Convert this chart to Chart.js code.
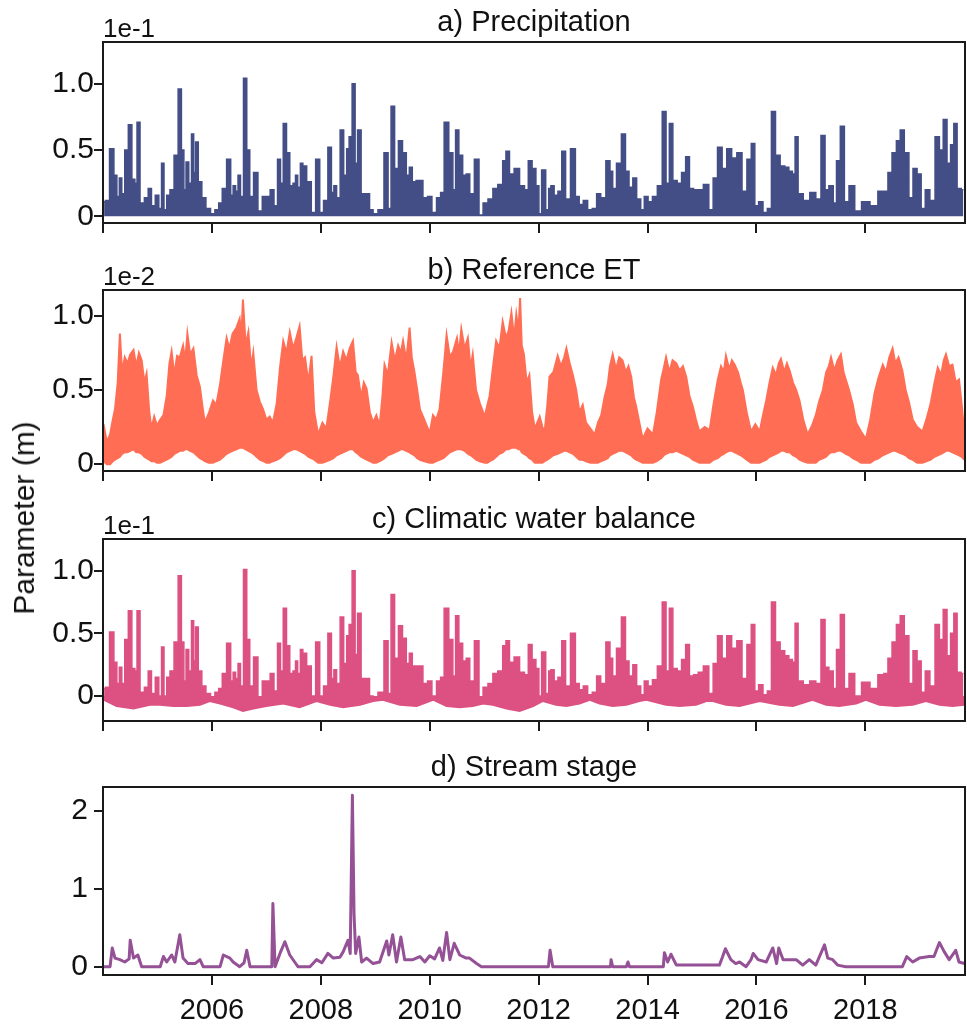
<!DOCTYPE html>
<html>
<head>
<meta charset="utf-8">
<title>Climate and stream series</title>
<script src="https://cdn.jsdelivr.net/npm/chart.js@4.4.1/dist/chart.umd.min.js"></script>
<style>
  body { margin: 0; background: #fff; }
  #wrap { position: relative; width: 967px; height: 1025px; font-family: "Liberation Sans", Arial, sans-serif; }
  .panel { position: absolute; left: 0; width: 967px; }
  #ylab {
    position: absolute; left: 23.5px; top: 518px;
    transform: translate(-50%, -50%) rotate(-90deg);
    white-space: nowrap; font-size: 30px; color: #111;
  }
</style>
</head>
<body>
<div id="wrap">
  <div class="panel" style="top:0px"><canvas id="chartA" width="967" height="241"></canvas></div>
  <div class="panel" style="top:245px"><canvas id="chartB" width="967" height="244"></canvas></div>
  <div class="panel" style="top:494px"><canvas id="chartC" width="967" height="245"></canvas></div>
  <div class="panel" style="top:742px"><canvas id="chartD" width="967" height="283"></canvas></div>
  <div id="ylab">Parameter (m)</div>
</div>
<script>
// sample times (decimal years) shared by precipitation and climatic water balance
var sampleYears = [
  2004.02, 2004.07, 2004.17, 2004.23, 2004.28, 2004.32, 2004.37, 2004.43, 2004.50, 2004.56,
  2004.61, 2004.64, 2004.72, 2004.80, 2004.86, 2004.92, 2005.00, 2005.05, 2005.10, 2005.14,
  2005.20, 2005.26, 2005.35, 2005.41, 2005.47, 2005.50, 2005.55, 2005.60, 2005.65, 2005.68,
  2005.72, 2005.78, 2005.85, 2005.93, 2006.02, 2006.09, 2006.16, 2006.22, 2006.32, 2006.37,
  2006.41, 2006.46, 2006.50, 2006.55, 2006.61, 2006.67, 2006.72, 2006.81, 2006.88, 2006.97,
  2007.03, 2007.11, 2007.17, 2007.24, 2007.28, 2007.34, 2007.40, 2007.46, 2007.52, 2007.55,
  2007.60, 2007.65, 2007.69, 2007.79, 2007.86, 2007.95, 2008.01, 2008.09, 2008.17, 2008.22,
  2008.26, 2008.32, 2008.39, 2008.45, 2008.50, 2008.54, 2008.61, 2008.65, 2008.70, 2008.78,
  2008.86, 2008.93, 2008.99, 2009.11, 2009.21, 2009.26, 2009.32, 2009.39, 2009.46, 2009.54,
  2009.60, 2009.65, 2009.71, 2009.79, 2009.83, 2009.92, 2010.00, 2010.08, 2010.17, 2010.23,
  2010.30, 2010.40, 2010.45, 2010.50, 2010.57, 2010.64, 2010.70, 2010.77, 2010.87, 2010.94,
  2011.02, 2011.12, 2011.20, 2011.30, 2011.38, 2011.42, 2011.51, 2011.59, 2011.71, 2011.77,
  2011.85, 2011.91, 2011.99, 2012.02, 2012.09, 2012.17, 2012.20, 2012.25, 2012.32, 2012.39,
  2012.46, 2012.53, 2012.64, 2012.71, 2012.78, 2012.86, 2012.94, 2013.03, 2013.10, 2013.18,
  2013.29, 2013.33, 2013.39, 2013.47, 2013.57, 2013.62, 2013.70, 2013.76, 2013.84, 2013.91,
  2013.97, 2014.05, 2014.13, 2014.23, 2014.31, 2014.37, 2014.43, 2014.50, 2014.59, 2014.66,
  2014.74, 2014.80, 2014.89, 2014.97, 2015.08, 2015.17, 2015.24, 2015.33, 2015.41, 2015.50,
  2015.59, 2015.69, 2015.78, 2015.87, 2015.94, 2016.00, 2016.08, 2016.16, 2016.24, 2016.31,
  2016.39, 2016.48, 2016.56, 2016.63, 2016.69, 2016.73, 2016.80, 2016.92, 2017.04, 2017.14,
  2017.23, 2017.29, 2017.37, 2017.45, 2017.49, 2017.59, 2017.64, 2017.76, 2017.85, 2018.01,
  2018.16, 2018.30, 2018.38, 2018.45, 2018.53, 2018.61, 2018.67, 2018.76, 2018.84, 2018.91,
  2018.99, 2019.06, 2019.14, 2019.23, 2019.33, 2019.39, 2019.47, 2019.53, 2019.60, 2019.65,
  2019.72, 2019.80
];

// a) precipitation, units of 1e-1 m
var precip = [
  0.11, 0.12, 0.51, 0.31, 0.15, 0.29, 0.17, 0.50, 0.69, 0.28,
  0.25, 0.71, 0.10, 0.14, 0.21, 0.08, 0.16, 0.06, 0.40, 0.05,
  0.16, 0.20, 0.46, 0.96, 0.50, 0.20, 0.41, 0.25, 0.62, 0.33,
  0.56, 0.26, 0.14, 0.06, 0.02, 0.05, 0.10, 0.21, 0.43, 0.16,
  0.23, 0.19, 0.31, 0.15, 1.04, 0.50, 0.15, 0.33, 0.04, 0.15,
  0.15, 0.20, 0.08, 0.43, 0.25, 0.70, 0.48, 0.23, 0.25, 0.31,
  0.22, 0.40, 0.38, 0.26, 0.03, 0.43, 0.03, 0.12, 0.52, 0.18,
  0.23, 0.14, 0.65, 0.31, 0.51, 0.60, 1.00, 0.40, 0.65, 0.17,
  0.17, 0.05, 0.02, 0.05, 0.48, 0.06, 0.83, 0.36, 0.57, 0.48,
  0.31, 0.37, 0.26, 0.27, 0.27, 0.14, 0.15, 0.03, 0.14, 0.18,
  0.71, 0.48, 0.20, 0.65, 0.46, 0.31, 0.32, 0.17, 0.43, 0.01,
  0.10, 0.13, 0.21, 0.24, 0.42, 0.49, 0.32, 0.36, 0.23, 0.20,
  0.42, 0.36, 0.23, 0.02, 0.35, 0.05, 0.21, 0.23, 0.16, 0.19,
  0.49, 0.13, 0.51, 0.15, 0.09, 0.12, 0.05, 0.06, 0.17, 0.14,
  0.42, 0.34, 0.21, 0.40, 0.62, 0.34, 0.22, 0.29, 0.13, 0.05,
  0.15, 0.11, 0.15, 0.23, 0.79, 0.25, 0.70, 0.27, 0.25, 0.33,
  0.45, 0.21, 0.20, 0.20, 0.24, 0.05, 0.29, 0.52, 0.36, 0.51,
  0.44, 0.48, 0.19, 0.43, 0.55, 0.08, 0.11, 0.03, 0.06, 0.79,
  0.46, 0.38, 0.37, 0.34, 0.32, 0.60, 0.17, 0.12, 0.18, 0.13,
  0.61, 0.20, 0.23, 0.10, 0.42, 0.68, 0.11, 0.23, 0.04, 0.11,
  0.08, 0.19, 0.19, 0.33, 0.48, 0.57, 0.65, 0.48, 0.14, 0.36,
  0.32, 0.06, 0.20, 0.12, 0.60, 0.50, 0.73, 0.40, 0.54, 0.70,
  0.21, 0.20
];

// c) climatic water balance, upper edge at the same times, units of 1e-1 m
var cwbHigh = [
  0.06, 0.07, 0.51, 0.27, 0.10, 0.23, 0.10, 0.45, 0.68, 0.22,
  0.20, 0.68, 0.03, 0.07, 0.20, 0.02, 0.15, 0.00, 0.39, 0.00,
  0.15, 0.20, 0.43, 0.96, 0.43, 0.12, 0.37, 0.20, 0.60, 0.28,
  0.55, 0.20, 0.08, 0.02, -0.02, 0.03, 0.06, 0.18, 0.42, 0.12,
  0.19, 0.14, 0.26, 0.08, 1.01, 0.45, 0.08, 0.31, -0.02, 0.12,
  0.12, 0.18, 0.04, 0.42, 0.20, 0.70, 0.40, 0.18, 0.20, 0.28,
  0.18, 0.37, 0.34, 0.24, 0.00, 0.43, 0.00, 0.08, 0.50, 0.14,
  0.21, 0.10, 0.63, 0.26, 0.48, 0.57, 1.00, 0.33, 0.66, 0.14,
  0.14, 0.00, -0.01, 0.03, 0.44, 0.02, 0.81, 0.30, 0.56, 0.46,
  0.26, 0.34, 0.24, 0.24, 0.24, 0.10, 0.12, 0.00, 0.12, 0.15,
  0.70, 0.45, 0.16, 0.64, 0.42, 0.28, 0.30, 0.12, 0.44, -0.01,
  0.07, 0.10, 0.18, 0.20, 0.40, 0.44, 0.27, 0.31, 0.19, 0.17,
  0.41, 0.29, 0.22, 0.00, 0.35, 0.02, 0.20, 0.21, 0.12, 0.15,
  0.44, 0.08, 0.50, 0.10, 0.05, 0.08, 0.01, 0.03, 0.16, 0.10,
  0.43, 0.30, 0.16, 0.38, 0.63, 0.28, 0.16, 0.25, 0.08, 0.01,
  0.12, 0.08, 0.13, 0.24, 0.75, 0.20, 0.70, 0.22, 0.20, 0.29,
  0.41, 0.16, 0.17, 0.19, 0.24, 0.02, 0.26, 0.48, 0.30, 0.48,
  0.38, 0.44, 0.14, 0.41, 0.57, 0.04, 0.09, 0.01, 0.04, 0.75,
  0.43, 0.36, 0.32, 0.29, 0.27, 0.58, 0.12, 0.09, 0.12, 0.10,
  0.61, 0.23, 0.20, 0.06, 0.37, 0.65, 0.06, 0.18, 0.00, 0.11,
  0.06, 0.17, 0.18, 0.30, 0.43, 0.57, 0.64, 0.48, 0.10, 0.36,
  0.28, 0.03, 0.20, 0.08, 0.57, 0.45, 0.69, 0.32, 0.50, 0.66,
  0.19, 0.18
];

// c) lower edge of the water balance band
var cwbLowYears = [
  2004.01, 2004.25, 2004.56, 2004.86, 2005.05, 2005.29, 2005.54, 2005.78, 2005.96, 2006.15,
  2006.39, 2006.57, 2006.76, 2007.00, 2007.31, 2007.61, 2007.92, 2008.17, 2008.41, 2008.72,
  2008.96, 2009.14, 2009.45, 2009.76, 2010.00, 2010.06, 2010.31, 2010.55, 2010.79, 2010.98,
  2011.16, 2011.41, 2011.65, 2011.90, 2012.08, 2012.32, 2012.51, 2012.75, 2012.94, 2013.12,
  2013.36, 2013.61, 2013.85, 2013.98, 2014.34, 2014.59, 2014.89, 2015.08, 2015.20, 2015.44,
  2015.69, 2016.06, 2016.42, 2016.67, 2017.03, 2017.28, 2017.52, 2017.83, 2018.01, 2018.26,
  2018.56, 2018.87, 2019.11, 2019.36, 2019.60, 2019.82
];
var cwbLow = [
  -0.03, -0.08, -0.10, -0.07, -0.07, -0.08, -0.08, -0.07, -0.04, -0.06,
  -0.09, -0.12, -0.10, -0.08, -0.06, -0.09, -0.04, -0.07, -0.09, -0.07,
  -0.04, -0.03, -0.07, -0.08, -0.04, -0.03, -0.08, -0.09, -0.08, -0.06,
  -0.07, -0.10, -0.12, -0.08, -0.04, -0.07, -0.08, -0.06, -0.03, -0.06,
  -0.08, -0.07, -0.04, -0.03, -0.07, -0.08, -0.07, -0.04, -0.04, -0.07,
  -0.08, -0.04, -0.07, -0.08, -0.03, -0.07, -0.08, -0.06, -0.03, -0.07,
  -0.08, -0.07, -0.04, -0.07, -0.08, -0.07
];

// b) reference ET, upper and lower edge of the daily band, units of 1e-2 m
var etYears = [
  2004.01, 2004.07, 2004.13, 2004.18, 2004.22, 2004.27, 2004.31, 2004.35, 2004.40, 2004.45,
  2004.50, 2004.56, 2004.61, 2004.66, 2004.71, 2004.76, 2004.80, 2004.85, 2004.89, 2004.94,
  2004.99, 2005.05, 2005.11, 2005.17, 2005.22, 2005.26, 2005.31, 2005.36, 2005.41, 2005.47,
  2005.51, 2005.55, 2005.60, 2005.66, 2005.72, 2005.78, 2005.83, 2005.87, 2005.94, 2006.02,
  2006.08, 2006.15, 2006.21, 2006.27, 2006.32, 2006.38, 2006.45, 2006.51, 2006.54, 2006.57,
  2006.62, 2006.67, 2006.72, 2006.76, 2006.82, 2006.88, 2006.94, 2007.00, 2007.06, 2007.12,
  2007.19, 2007.25, 2007.31, 2007.37, 2007.43, 2007.49, 2007.55, 2007.61, 2007.66, 2007.71,
  2007.77, 2007.83, 2007.88, 2007.95, 2008.03, 2008.10, 2008.17, 2008.23, 2008.29, 2008.35,
  2008.41, 2008.47, 2008.53, 2008.59, 2008.64, 2008.68, 2008.74, 2008.79, 2008.84, 2008.90,
  2008.96, 2009.02, 2009.08, 2009.13, 2009.17, 2009.23, 2009.30, 2009.36, 2009.42, 2009.47,
  2009.51, 2009.57, 2009.63, 2009.67, 2009.72, 2009.77, 2009.82, 2009.90, 2010.00, 2010.06,
  2010.12, 2010.18, 2010.25, 2010.31, 2010.37, 2010.43, 2010.50, 2010.54, 2010.58, 2010.64,
  2010.70, 2010.75, 2010.79, 2010.85, 2010.92, 2011.01, 2011.06, 2011.10, 2011.16, 2011.22,
  2011.28, 2011.34, 2011.40, 2011.45, 2011.50, 2011.55, 2011.59, 2011.63, 2011.66, 2011.69,
  2011.73, 2011.78, 2011.83, 2011.88, 2011.93, 2012.02, 2012.07, 2012.11, 2012.16, 2012.20,
  2012.27, 2012.35, 2012.41, 2012.47, 2012.51, 2012.57, 2012.63, 2012.69, 2012.75, 2012.81,
  2012.87, 2012.95, 2013.03, 2013.09, 2013.15, 2013.21, 2013.27, 2013.31, 2013.36, 2013.42,
  2013.48, 2013.54, 2013.60, 2013.65, 2013.70, 2013.75, 2013.79, 2013.85, 2013.91, 2014.00,
  2014.10, 2014.17, 2014.25, 2014.30, 2014.34, 2014.40, 2014.46, 2014.53, 2014.59, 2014.65,
  2014.71, 2014.77, 2014.83, 2014.89, 2014.95, 2015.05, 2015.14, 2015.21, 2015.29, 2015.35,
  2015.40, 2015.44, 2015.50, 2015.55, 2015.60, 2015.66, 2015.71, 2015.75, 2015.82, 2015.90,
  2015.98, 2016.06, 2016.12, 2016.18, 2016.24, 2016.30, 2016.36, 2016.41, 2016.45, 2016.51,
  2016.56, 2016.61, 2016.67, 2016.73, 2016.79, 2016.86, 2016.94, 2017.02, 2017.09, 2017.15,
  2017.22, 2017.28, 2017.33, 2017.37, 2017.43, 2017.49, 2017.55, 2017.60, 2017.64, 2017.70,
  2017.77, 2017.83, 2017.92, 2018.01, 2018.09, 2018.17, 2018.24, 2018.32, 2018.38, 2018.44,
  2018.50, 2018.55, 2018.61, 2018.68, 2018.74, 2018.80, 2018.87, 2018.95, 2019.05, 2019.12,
  2019.20, 2019.27, 2019.33, 2019.39, 2019.44, 2019.48, 2019.54, 2019.60, 2019.66, 2019.72,
  2019.77, 2019.82
];
var etHigh = [
  0.27, 0.15, 0.20, 0.30, 0.37, 0.55, 0.88, 0.62, 0.72, 0.68,
  0.74, 0.77, 0.66, 0.75, 0.70, 0.55, 0.61, 0.35, 0.24, 0.32,
  0.26, 0.30, 0.33, 0.46, 0.68, 0.76, 0.60, 0.73, 0.72, 0.80,
  0.70, 0.88, 0.74, 0.78, 0.60, 0.52, 0.38, 0.28, 0.34, 0.43,
  0.40, 0.54, 0.70, 0.85, 0.78, 0.88, 0.92, 0.98, 0.85, 1.11,
  0.80, 0.89, 0.65, 0.75, 0.50, 0.42, 0.37, 0.30, 0.32, 0.28,
  0.41, 0.65, 0.83, 0.75, 0.89, 0.78, 0.85, 0.93, 0.70, 0.72,
  0.55, 0.73, 0.35, 0.20, 0.28, 0.24, 0.42, 0.59, 0.79, 0.65,
  0.76, 0.70, 0.78, 0.83, 0.62, 0.60, 0.45, 0.55, 0.51, 0.35,
  0.28, 0.33, 0.26, 0.45, 0.67, 0.60, 0.82, 0.70, 0.80, 0.75,
  0.83, 0.70, 0.92, 0.72, 0.62, 0.50, 0.37, 0.30, 0.21, 0.33,
  0.30, 0.37, 0.62, 0.87, 0.72, 0.76, 0.85, 0.75, 0.91, 0.78,
  0.85, 0.65, 0.74, 0.50, 0.41, 0.32, 0.40, 0.46, 0.65, 0.83,
  0.78, 0.96, 0.85, 0.90, 1.02, 0.85, 1.01, 0.90, 1.12, 0.80,
  0.74, 0.55, 0.60, 0.35, 0.24, 0.32, 0.25, 0.22, 0.40, 0.59,
  0.62, 0.73, 0.66, 0.72, 0.78, 0.68, 0.60, 0.50, 0.35, 0.40,
  0.28, 0.24, 0.20, 0.28, 0.33, 0.45, 0.54, 0.66, 0.74, 0.64,
  0.72, 0.70, 0.62, 0.66, 0.59, 0.45, 0.39, 0.28, 0.17, 0.24,
  0.20, 0.35, 0.57, 0.65, 0.72, 0.62, 0.70, 0.68, 0.63, 0.66,
  0.59, 0.46, 0.39, 0.30, 0.22, 0.25, 0.23, 0.40, 0.57, 0.66,
  0.62, 0.73, 0.64, 0.70, 0.67, 0.62, 0.55, 0.50, 0.35, 0.22,
  0.27, 0.22, 0.33, 0.43, 0.55, 0.65, 0.60, 0.68, 0.71, 0.62,
  0.68, 0.63, 0.55, 0.50, 0.43, 0.30, 0.20, 0.26, 0.33, 0.42,
  0.50, 0.62, 0.66, 0.72, 0.63, 0.70, 0.74, 0.62, 0.57, 0.50,
  0.40, 0.28, 0.22, 0.17, 0.30, 0.48, 0.58, 0.67, 0.62, 0.72,
  0.78, 0.68, 0.72, 0.63, 0.50, 0.42, 0.30, 0.25, 0.22, 0.30,
  0.41, 0.55, 0.65, 0.60, 0.70, 0.74, 0.66, 0.67, 0.55, 0.57,
  0.40, 0.20
];
var etLow = [
  0.02, 0.00, 0.00, 0.02, 0.03, 0.04, 0.05, 0.07, 0.08, 0.08,
  0.09, 0.10, 0.08, 0.08, 0.07, 0.05, 0.04, 0.03, 0.02, 0.02,
  0.01, 0.01, 0.02, 0.03, 0.04, 0.05, 0.07, 0.08, 0.09, 0.09,
  0.10, 0.10, 0.09, 0.08, 0.06, 0.04, 0.03, 0.02, 0.01, 0.01,
  0.02, 0.03, 0.05, 0.07, 0.08, 0.09, 0.10, 0.11, 0.11, 0.11,
  0.10, 0.09, 0.08, 0.07, 0.05, 0.03, 0.02, 0.01, 0.01, 0.02,
  0.03, 0.04, 0.06, 0.08, 0.09, 0.10, 0.10, 0.09, 0.08, 0.07,
  0.05, 0.04, 0.03, 0.01, 0.01, 0.02, 0.03, 0.04, 0.06, 0.07,
  0.08, 0.09, 0.10, 0.10, 0.08, 0.07, 0.05, 0.04, 0.03, 0.02,
  0.01, 0.01, 0.02, 0.03, 0.04, 0.06, 0.07, 0.08, 0.09, 0.10,
  0.10, 0.09, 0.08, 0.07, 0.06, 0.04, 0.03, 0.02, 0.01, 0.01,
  0.02, 0.03, 0.04, 0.06, 0.08, 0.09, 0.10, 0.10, 0.10, 0.09,
  0.07, 0.06, 0.05, 0.03, 0.02, 0.01, 0.01, 0.02, 0.03, 0.05,
  0.07, 0.08, 0.10, 0.10, 0.11, 0.11, 0.11, 0.10, 0.10, 0.08,
  0.07, 0.06, 0.04, 0.03, 0.01, 0.01, 0.01, 0.02, 0.03, 0.04,
  0.06, 0.07, 0.08, 0.09, 0.09, 0.08, 0.07, 0.05, 0.03, 0.03,
  0.02, 0.01, 0.01, 0.01, 0.02, 0.03, 0.04, 0.06, 0.07, 0.08,
  0.09, 0.09, 0.08, 0.07, 0.06, 0.04, 0.03, 0.02, 0.01, 0.01,
  0.01, 0.02, 0.04, 0.06, 0.07, 0.08, 0.08, 0.09, 0.08, 0.07,
  0.06, 0.05, 0.03, 0.02, 0.01, 0.01, 0.01, 0.03, 0.04, 0.06,
  0.07, 0.08, 0.09, 0.09, 0.08, 0.07, 0.06, 0.05, 0.03, 0.01,
  0.01, 0.01, 0.02, 0.03, 0.05, 0.06, 0.07, 0.08, 0.09, 0.09,
  0.08, 0.08, 0.06, 0.05, 0.03, 0.02, 0.01, 0.01, 0.01, 0.03,
  0.04, 0.05, 0.07, 0.08, 0.08, 0.09, 0.09, 0.08, 0.07, 0.06,
  0.04, 0.03, 0.01, 0.01, 0.01, 0.03, 0.04, 0.06, 0.07, 0.08,
  0.09, 0.09, 0.08, 0.07, 0.06, 0.04, 0.03, 0.01, 0.01, 0.02,
  0.03, 0.05, 0.06, 0.07, 0.08, 0.09, 0.09, 0.08, 0.07, 0.06,
  0.05, 0.03
];

// d) stream stage, m
var stageYears = [
  2004.00, 2004.13, 2004.17, 2004.22, 2004.31, 2004.40, 2004.48, 2004.50, 2004.56, 2004.64,
  2004.71, 2005.05, 2005.11, 2005.17, 2005.26, 2005.32, 2005.41, 2005.47, 2005.56, 2005.69,
  2005.78, 2005.84, 2006.15, 2006.21, 2006.33, 2006.39, 2006.51, 2006.59, 2006.64, 2006.70,
  2007.10, 2007.12, 2007.16, 2007.25, 2007.34, 2007.43, 2007.52, 2007.58, 2007.80, 2007.92,
  2008.02, 2008.13, 2008.23, 2008.35, 2008.41, 2008.50, 2008.54, 2008.58, 2008.61, 2008.64,
  2008.70, 2008.75, 2008.84, 2008.96, 2009.08, 2009.21, 2009.25, 2009.32, 2009.39, 2009.47,
  2009.54, 2009.69, 2009.82, 2009.91, 2010.00, 2010.09, 2010.18, 2010.24, 2010.31, 2010.37,
  2010.45, 2010.55, 2010.67, 2010.73, 2010.86, 2010.95, 2012.18, 2012.21, 2012.26, 2013.32,
  2013.33, 2013.36, 2013.61, 2013.64, 2013.67, 2014.29, 2014.31, 2014.37, 2014.43, 2014.53,
  2015.32, 2015.38, 2015.43, 2015.53, 2015.62, 2015.69, 2015.81, 2015.90, 2015.94, 2016.03,
  2016.18, 2016.30, 2016.37, 2016.41, 2016.49, 2016.73, 2016.85, 2016.97, 2017.09, 2017.25,
  2017.31, 2017.40, 2017.49, 2017.64, 2018.68, 2018.76, 2018.87, 2018.99, 2019.17, 2019.26,
  2019.36, 2019.45, 2019.54, 2019.66, 2019.72, 2019.82
];
var stage = [
  0.00, 0.00, 0.24, 0.11, 0.09, 0.06, 0.10, 0.34, 0.11, 0.15,
  0.00, 0.00, 0.13, 0.06, 0.15, 0.06, 0.41, 0.11, 0.04, 0.04,
  0.09, 0.00, 0.00, 0.15, 0.11, 0.06, 0.00, 0.05, 0.21, 0.00,
  0.00, 0.81, 0.00, 0.17, 0.32, 0.15, 0.06, 0.00, 0.00, 0.09,
  0.05, 0.17, 0.11, 0.12, 0.19, 0.34, 0.17, 2.20, 0.68, 0.17,
  0.38, 0.06, 0.11, 0.04, 0.06, 0.33, 0.15, 0.41, 0.06, 0.38,
  0.09, 0.09, 0.13, 0.06, 0.14, 0.10, 0.24, 0.08, 0.44, 0.09,
  0.30, 0.15, 0.11, 0.11, 0.04, 0.00, 0.00, 0.21, 0.00, 0.00,
  0.09, 0.00, 0.00, 0.06, 0.00, 0.00, 0.18, 0.06, 0.16, 0.02,
  0.02, 0.13, 0.23, 0.09, 0.04, 0.06, 0.00, 0.09, 0.17, 0.09,
  0.06, 0.24, 0.04, 0.24, 0.09, 0.09, 0.02, 0.09, 0.02, 0.28,
  0.11, 0.09, 0.02, 0.00, 0.00, 0.13, 0.06, 0.11, 0.13, 0.13,
  0.31, 0.19, 0.09, 0.21, 0.06, 0.04
];

// axis ticks
var xTickYears = [2004, 2006, 2008, 2010, 2012, 2014, 2016, 2018];
var yTicksSmall = [0, 0.5, 1.0];
var yTickLabelsSmall = ['0', '0.5', '1.0'];
var yTicksStage = [0, 1, 2];
var yTickLabelsStage = ['0', '1', '2'];

var FONT = '"Liberation Sans", Arial, sans-serif';
var INK = '#1a1a1a';

function pts(xs, ys) {
  return xs.map(function (x, i) { return { x: x, y: ys[i] }; });
}

// titles, exponent labels and the closed frame
var panelText = {
  id: 'panelText',
  afterDatasetsDraw: function (chart, args, opts) {
    var a = chart.chartArea, ctx = chart.ctx;
    ctx.save();
    ctx.strokeStyle = INK;
    ctx.lineWidth = 2;
    ctx.strokeRect(a.left, a.top, a.right - a.left, a.bottom - a.top);
    ctx.fillStyle = '#111';
    ctx.textBaseline = 'alphabetic';
    ctx.font = '29px ' + FONT;
    ctx.textAlign = 'center';
    ctx.fillText(opts.title, (a.left + a.right) / 2, a.top - 11);
    if (opts.exp) {
      ctx.font = '26px ' + FONT;
      ctx.textAlign = 'left';
      ctx.fillText(opts.exp, a.left, a.top - 5.5);
    }
    ctx.restore();
  }
};

function makePanel(id, datasets, p) {
  var ctx = document.getElementById(id).getContext('2d');
  return new Chart(ctx, {
    type: 'line',
    data: { datasets: datasets },
    plugins: [panelText],
    options: {
      responsive: false,
      animation: false,
      events: [],
      layout: { padding: { top: p.padTop, right: 2, left: 0, bottom: 0 } },
      elements: { point: { radius: 0 }, line: { tension: 0 } },
      scales: {
        x: {
          type: 'linear',
          min: 2004,
          max: 2019.83,
          border: { display: false },
          grid: { drawOnChartArea: false, drawTicks: true, tickLength: 10, color: INK, lineWidth: 2 },
          afterBuildTicks: function (scale) {
            scale.ticks = xTickYears.filter(function (v) { return p.showLabels ? v > 2004 : true; })
              .map(function (v) { return { value: v }; });
          },
          ticks: {
            autoSkip: false,
            maxRotation: 0,
            padding: 9,
            color: '#111',
            font: { family: FONT, size: 29 },
            callback: function (v) { return p.showLabels ? String(v) : ''; }
          },
          afterFit: function (scale) { scale.height = p.xHeight; }
        },
        y: {
          type: 'linear',
          min: p.yMin,
          max: p.yMax,
          border: { display: false },
          grid: { drawOnChartArea: false, drawTicks: true, tickLength: 9, color: INK, lineWidth: 2 },
          afterBuildTicks: function (scale) {
            scale.ticks = p.yTicks.map(function (v) { return { value: v }; });
          },
          ticks: {
            padding: p.yPad,
            color: '#111',
            font: { family: FONT, size: 30 },
            callback: function (v) { return p.yLabels[p.yTicks.indexOf(v)]; }
          },
          afterFit: function (scale) { scale.width = 103; }
        }
      },
      plugins: {
        legend: { display: false },
        tooltip: { enabled: false },
        panelText: { title: p.title, exp: p.exp }
      }
    }
  });
}

document.addEventListener('DOMContentLoaded', function () {
  makePanel('chartA', [{
    data: pts(sampleYears, precip),
    borderColor: '#444e86',
    backgroundColor: '#444e86',
    borderWidth: 1.5,
    stepped: 'middle',
    fill: 'origin'
  }], {
    padTop: 42, xHeight: 12, showLabels: false, yMin: -0.05, yMax: 1.314, yPad: 0,
    yTicks: yTicksSmall, yLabels: yTickLabelsSmall, title: 'a) Precipitation', exp: '1e-1'
  });

  makePanel('chartB', [{
    data: pts(etYears, etHigh),
    borderColor: '#ff6e54',
    backgroundColor: '#ff6e54',
    borderWidth: 2,
    fill: '+1'
  }, {
    data: pts(etYears, etLow),
    borderColor: '#ff6e54',
    borderWidth: 2,
    fill: false
  }], {
    padTop: 45, xHeight: 12, showLabels: false, yMin: -0.046, yMax: 1.174, yPad: 0,
    yTicks: yTicksSmall, yLabels: yTickLabelsSmall, title: 'b) Reference ET', exp: '1e-2'
  });

  makePanel('chartC', [{
    data: pts(sampleYears, cwbHigh),
    borderColor: '#dd5182',
    backgroundColor: '#dd5182',
    borderWidth: 1.5,
    stepped: 'middle',
    fill: 'origin'
  }, {
    data: pts(cwbLowYears, cwbLow),
    borderColor: '#dd5182',
    backgroundColor: '#dd5182',
    borderWidth: 2,
    fill: 'origin'
  }], {
    padTop: 45, xHeight: 12, showLabels: false, yMin: -0.2, yMax: 1.253, yPad: 0,
    yTicks: yTicksSmall, yLabels: yTickLabelsSmall, title: 'c) Climatic water balance', exp: '1e-1'
  });

  makePanel('chartD', [{
    data: pts(stageYears, stage),
    borderColor: '#955196',
    borderWidth: 3,
    borderJoinStyle: 'round',
    fill: false
  }], {
    padTop: 45, xHeight: 50, showLabels: true, yMin: -0.107, yMax: 2.307, yPad: 6,
    yTicks: yTicksStage, yLabels: yTickLabelsStage, title: 'd) Stream stage', exp: ''
  });
});
</script>
</body>
</html>
